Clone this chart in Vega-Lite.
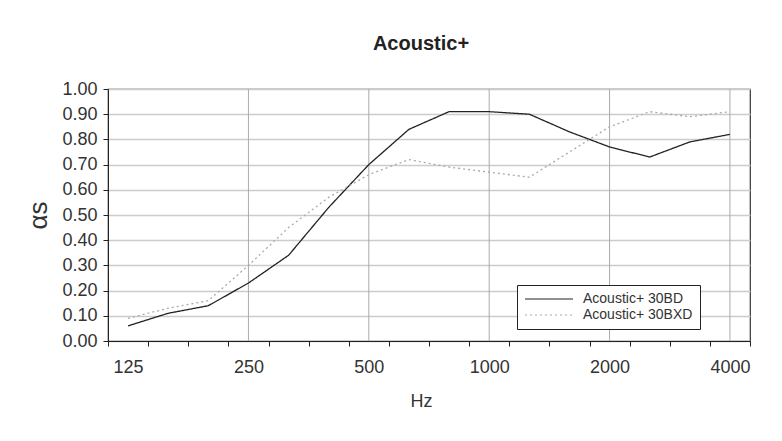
{
  "$schema": "https://vega.github.io/schema/vega-lite/v6.json",
  "autosize": {"type": "none"},
  "padding": {"left": 108, "top": 89, "right": 32, "bottom": 100},
  "width": 642,
  "height": 252,
  "title": {"text": "Acoustic+", "fontSize": 20, "fontWeight": "bold", "anchor": "middle", "dx": -8, "offset": 26, "color": "#222", "font": "Liberation Sans"},
  "config": {
    "font": "Liberation Sans",
    "view": {"stroke": "#333", "strokeWidth": 1.2},
    "axis": {"labelFont": "Liberation Sans", "titleFont": "Liberation Sans", "labelColor": "#333", "titleColor": "#333", "titleFontWeight": "normal"},
    "legend": {"orient": "none", "legendX": 409, "legendY": 196, "title": null, "strokeColor": "#222", "fillColor": "white", "padding": 7, "symbolType": "M-4,0H4", "symbolSize": 144, "symbolOffset": 18, "symbolStrokeWidth": 1.2, "symbolFillColor": "transparent", "labelFontSize": 14, "labelOffset": 27, "labelColor": "#333", "rowPadding": 2, "labelLimit": 300}
  },
  "encoding": {
    "x": {
      "field": "Hz",
      "type": "ordinal",
      "scale": {"type": "band", "domain": [125, 160, 200, 250, 315, 400, 500, 630, 800, 1000, 1250, 1600, 2000, 2500, 3150, 4000], "paddingInner": 0, "paddingOuter": 0},
      "axis": {
        "title": "Hz",
        "titleFontSize": 18,
        "titlePadding": 16,
        "titleX": 313,
        "labelFontSize": 18,
        "labelAngle": 0,
        "labelPadding": 12,
        "labelExpr": "indexof([125,250,500,1000,2000,4000], datum.value) >= 0 ? datum.label : ''",
        "tickBand": "extent",
        "tickSize": 5,
        "tickColor": "#222",
        "domainColor": "#222",
        "grid": false
      }
    }
  },
  "layer": [
    {
      "data": {"values": [{"Hz": 250}, {"Hz": 500}, {"Hz": 1000}, {"Hz": 2000}, {"Hz": 4000}]},
      "mark": {"type": "rule", "color": "#aaaaaa", "strokeWidth": 1}
    },
    {
      "data": {
        "values": [
          {"Hz": 125, "series": "Acoustic+ 30BD", "value": 0.06},
          {"Hz": 160, "series": "Acoustic+ 30BD", "value": 0.11},
          {"Hz": 200, "series": "Acoustic+ 30BD", "value": 0.14},
          {"Hz": 250, "series": "Acoustic+ 30BD", "value": 0.23},
          {"Hz": 315, "series": "Acoustic+ 30BD", "value": 0.34},
          {"Hz": 400, "series": "Acoustic+ 30BD", "value": 0.53},
          {"Hz": 500, "series": "Acoustic+ 30BD", "value": 0.70},
          {"Hz": 630, "series": "Acoustic+ 30BD", "value": 0.84},
          {"Hz": 800, "series": "Acoustic+ 30BD", "value": 0.91},
          {"Hz": 1000, "series": "Acoustic+ 30BD", "value": 0.91},
          {"Hz": 1250, "series": "Acoustic+ 30BD", "value": 0.90},
          {"Hz": 1600, "series": "Acoustic+ 30BD", "value": 0.83},
          {"Hz": 2000, "series": "Acoustic+ 30BD", "value": 0.77},
          {"Hz": 2500, "series": "Acoustic+ 30BD", "value": 0.73},
          {"Hz": 3150, "series": "Acoustic+ 30BD", "value": 0.79},
          {"Hz": 4000, "series": "Acoustic+ 30BD", "value": 0.82},
          {"Hz": 125, "series": "Acoustic+ 30BXD", "value": 0.09},
          {"Hz": 160, "series": "Acoustic+ 30BXD", "value": 0.13},
          {"Hz": 200, "series": "Acoustic+ 30BXD", "value": 0.16},
          {"Hz": 250, "series": "Acoustic+ 30BXD", "value": 0.30},
          {"Hz": 315, "series": "Acoustic+ 30BXD", "value": 0.45},
          {"Hz": 400, "series": "Acoustic+ 30BXD", "value": 0.57},
          {"Hz": 500, "series": "Acoustic+ 30BXD", "value": 0.66},
          {"Hz": 630, "series": "Acoustic+ 30BXD", "value": 0.72},
          {"Hz": 800, "series": "Acoustic+ 30BXD", "value": 0.69},
          {"Hz": 1000, "series": "Acoustic+ 30BXD", "value": 0.67},
          {"Hz": 1250, "series": "Acoustic+ 30BXD", "value": 0.65},
          {"Hz": 1600, "series": "Acoustic+ 30BXD", "value": 0.75},
          {"Hz": 2000, "series": "Acoustic+ 30BXD", "value": 0.85},
          {"Hz": 2500, "series": "Acoustic+ 30BXD", "value": 0.91},
          {"Hz": 3150, "series": "Acoustic+ 30BXD", "value": 0.89},
          {"Hz": 4000, "series": "Acoustic+ 30BXD", "value": 0.91}
        ]
      },
      "mark": {"type": "line", "strokeWidth": 1.3},
      "encoding": {
        "y": {
          "field": "value",
          "type": "quantitative",
          "scale": {"domain": [0, 1]},
          "axis": {
            "title": "αs",
            "titleFontSize": 26,
            "titlePadding": 10,
            "labelFontSize": 18,
            "labelPadding": 6,
            "format": ".2f",
            "values": [0, 0.1, 0.2, 0.3, 0.4, 0.5, 0.6, 0.7, 0.8, 0.9, 1.0],
            "tickSize": 5,
            "tickColor": "#222",
            "domainColor": "#222",
            "grid": true,
            "gridColor": "#cccccc",
            "gridWidth": 1.6
          }
        },
        "color": {
          "field": "series",
          "type": "nominal",
          "scale": {"domain": ["Acoustic+ 30BD", "Acoustic+ 30BXD"], "range": ["#222222", "#aaaaaa"]},
          "legend": {"labelExpr": "datum.label + '\u00a0\u00a0\u00a0\u00a0\u00a0\u00a0\u00a0\u00a0\u00a0\u00a0'"}
        },
        "strokeDash": {
          "field": "series",
          "type": "nominal",
          "scale": {"domain": ["Acoustic+ 30BD", "Acoustic+ 30BXD"], "range": [[1, 0], [2, 3]]},
          "legend": {"labelExpr": "datum.label + '\u00a0\u00a0\u00a0\u00a0\u00a0\u00a0\u00a0\u00a0\u00a0\u00a0'"}
        }
      }
    }
  ]
}
